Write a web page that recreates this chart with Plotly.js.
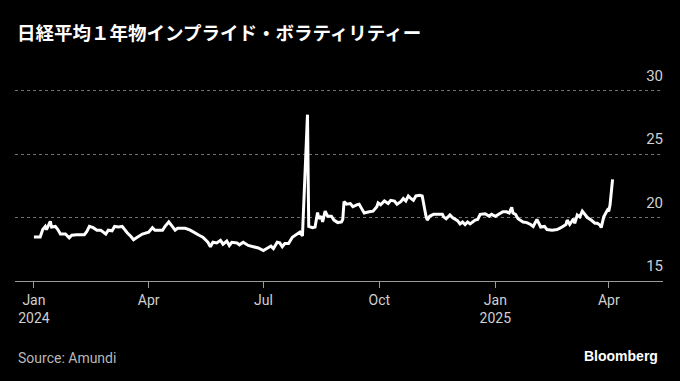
<!DOCTYPE html>
<html>
<head>
<meta charset="utf-8">
<script src="https://cdn.plot.ly/plotly-3.0.1.min.js"></script>
<style>
  html, body { margin: 0; padding: 0; background: #000; }
  #chart { width: 680px; height: 381px; }
</style>
</head>
<body>
<div id="chart"></div>
<script>
const dates = [
  "2024-01-01","2024-01-06","2024-01-08","2024-01-10","2024-01-11","2024-01-14","2024-01-15","2024-01-18","2024-01-20","2024-01-22",
  "2024-01-26","2024-01-29","2024-01-31","2024-02-04","2024-02-10","2024-02-12","2024-02-14","2024-02-17","2024-02-20","2024-02-23",
  "2024-02-25","2024-02-27","2024-02-29","2024-03-03","2024-03-05","2024-03-08","2024-03-11","2024-03-13","2024-03-15","2024-03-18",
  "2024-03-20","2024-03-23","2024-03-27","2024-04-01","2024-04-04","2024-04-06","2024-04-12","2024-04-14","2024-04-17","2024-04-19",
  "2024-04-22","2024-04-24","2024-04-30","2024-05-04","2024-05-07","2024-05-11","2024-05-14","2024-05-18","2024-05-20","2024-05-22",
  "2024-05-25","2024-05-28","2024-05-30","2024-06-02","2024-06-04","2024-06-06","2024-06-10","2024-06-12","2024-06-15","2024-06-19",
  "2024-06-23","2024-06-27","2024-07-01","2024-07-04","2024-07-07","2024-07-09","2024-07-12","2024-07-14","2024-07-16","2024-07-18",
  "2024-07-21","2024-07-24","2024-07-28","2024-07-30","2024-08-01","2024-08-05","2024-08-06","2024-08-09","2024-08-11","2024-08-13",
  "2024-08-14","2024-08-16","2024-08-17","2024-08-19","2024-08-21","2024-08-24","2024-08-26","2024-08-29","2024-09-01","2024-09-02",
  "2024-09-03","2024-09-05","2024-09-08","2024-09-10","2024-09-13","2024-09-15","2024-09-17","2024-09-19","2024-09-23","2024-09-26",
  "2024-09-29","2024-09-30","2024-10-02","2024-10-05","2024-10-08","2024-10-10","2024-10-13","2024-10-15","2024-10-18","2024-10-20",
  "2024-10-22","2024-10-24","2024-10-26","2024-10-28","2024-10-30","2024-11-02","2024-11-04","2024-11-06","2024-11-07","2024-11-08",
  "2024-11-10","2024-11-13","2024-11-17","2024-11-20","2024-11-21","2024-11-23","2024-11-26","2024-11-28","2024-12-02","2024-12-04",
  "2024-12-06","2024-12-08","2024-12-10","2024-12-12","2024-12-16","2024-12-18","2024-12-20","2024-12-24","2024-12-27","2024-12-29",
  "2025-01-01","2025-01-04","2025-01-07","2025-01-10","2025-01-12","2025-01-14","2025-01-15","2025-01-17","2025-01-19","2025-01-23",
  "2025-01-26","2025-01-29","2025-01-31","2025-02-03","2025-02-06","2025-02-09","2025-02-11","2025-02-15","2025-02-19","2025-02-22",
  "2025-02-26","2025-02-27","2025-03-01","2025-03-04","2025-03-05","2025-03-07","2025-03-09","2025-03-11","2025-03-13","2025-03-15",
  "2025-03-18","2025-03-21","2025-03-23","2025-03-25","2025-03-26","2025-03-28","2025-03-31","2025-04-01","2025-04-02","2025-04-04"
];
const vol = [
  18.47,18.47,19.05,19.3,19.05,19.7,19.25,19.3,19.05,18.7,
  18.7,18.4,18.6,18.65,18.65,18.9,19.3,19.2,19.0,19.0,
  18.85,18.7,19.0,18.95,19.3,19.25,19.3,19.0,18.8,18.5,
  18.25,18.45,18.7,18.85,19.2,19.0,19.0,19.3,19.65,19.4,
  19.0,19.15,19.15,19.0,18.8,18.6,18.45,18.05,17.7,18.05,
  18.0,18.2,17.9,18.15,17.8,18.05,18.0,17.85,18.05,17.8,
  17.7,17.6,17.4,17.6,17.75,17.55,18.05,18.0,17.7,17.95,
  17.95,18.45,18.7,18.85,18.55,28.1,19.3,19.2,19.25,20.4,
  19.9,20.1,19.65,20.5,20.1,20.1,19.8,19.6,19.65,19.85,
  21.25,21.05,21.1,20.85,21.0,21.05,20.7,20.35,20.45,20.5,
  20.85,21.15,21.0,21.3,21.1,21.35,21.3,21.05,21.25,21.5,
  21.3,21.7,21.5,21.35,21.7,21.75,21.7,20.45,20.1,19.8,
  20.1,20.25,20.25,20.25,20.05,19.9,20.2,20.0,19.75,19.5,
  19.65,19.45,19.65,19.5,19.8,19.85,20.25,20.3,20.1,20.25,
  20.1,20.3,20.45,20.45,20.35,20.8,20.35,20.25,19.9,19.65,
  19.6,19.45,19.3,19.85,19.25,19.3,19.05,19.0,19.05,19.2,
  19.45,19.8,19.45,19.9,19.55,20.2,20.05,20.5,20.25,20.0,
  19.8,19.55,19.55,19.4,19.2,20.05,20.6,20.5,21.0,23.0
];
const xTickVals = ["2024-01-01","2024-04-01","2024-07-01","2024-10-01","2025-01-01","2025-04-01"];
const xTickText = ["Jan<br>2024","Apr","Jul","Oct","Jan<br>2025","Apr"];
const yTickVals = [15, 20, 25, 30];
const yTickText = ["15", "20", "25", "30"];
const titleText = "日経平均１年物インプライド・ボラティリティー";
const sourceText = "Source: Amundi";
const brandText = "Bloomberg";

const numFont = "'Liberation Sans Narrow', 'Roboto', sans-serif";

const trace = {
  x: dates, y: vol, type: "scatter", mode: "lines",
  line: { color: "#ffffff", width: 3, shape: "linear" },
  hoverinfo: "skip"
};

const layout = {
  width: 680, height: 381,
  paper_bgcolor: "#000000", plot_bgcolor: "#000000",
  margin: { l: 15, r: 17, t: 88, b: 100 },
  showlegend: false,
  title: {
    text: "<b>" + titleText + "</b>",
    font: { family: "'Noto Sans CJK JP', sans-serif", size: 18.5, color: "#ffffff" },
    x: 17 / 680, xanchor: "left", xref: "container",
    y: 1 - 34 / 381, yanchor: "middle", yref: "container"
  },
  xaxis: {
    type: "date",
    range: ["2023-12-17", "2025-05-14"],
    tickmode: "array", tickvals: xTickVals, ticktext: xTickText,
    ticks: "outside", ticklen: 6, tickcolor: "#9a9a9a", tickwidth: 1,
    showline: true, linecolor: "#9a9a9a", linewidth: 1,
    showgrid: false, zeroline: false,
    tickfont: { family: numFont, size: 14, color: "#d0d0d0" }
  },
  yaxis: {
    range: [15, 30.2],
    side: "right",
    tickmode: "array", tickvals: yTickVals, ticktext: yTickText,
    ticks: "", ticklabelposition: "inside",
    ticklabelshift: -15,
    ticklabelstandoff: -3,
    ticklabeloverflow: "allow",
    showgrid: true, gridcolor: "#6e6e6e", griddash: "dot", gridwidth: 1,
    zeroline: false, showline: false,
    tickfont: { family: numFont, size: 15, color: "#d0d0d0" }
  },
  annotations: [
    { text: sourceText, xref: "paper", yref: "paper", x: 0, xanchor: "left",
      y: -0.40, yanchor: "middle", showarrow: false, xshift: 1,
      font: { family: numFont, size: 14, color: "#b8b8b8" } },
    { text: "<b>" + brandText + "</b>", xref: "paper", yref: "paper", x: 1, xanchor: "right",
      y: -0.39, yanchor: "middle", showarrow: false, xshift: -3,
      font: { family: "'Liberation Sans', 'Roboto', sans-serif", size: 14, color: "#ffffff" } }
  ]
};

Plotly.newPlot("chart", [trace], layout, { displayModeBar: false, staticPlot: true });
</script>
</body>
</html>
